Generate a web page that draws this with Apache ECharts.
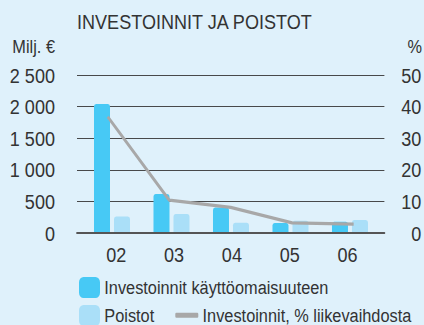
<!DOCTYPE html>
<html>
<head>
<meta charset="utf-8">
<script src="https://cdn.jsdelivr.net/npm/echarts@6/dist/echarts.min.js"></script>
<style>
  html, body { margin: 0; padding: 0; background: #dff1fb; overflow: hidden; }
  #wrap { width: 424px; height: 325px; overflow: hidden; }
  /* The chart is laid out wider and squeezed horizontally, which gives the
     narrow, condensed lettering of the printed original. */
  #chart { height: 325px; transform-origin: 0 0; }
</style>
</head>
<body>
<div id="wrap"><div id="chart"></div></div>
<script>
// Years on the category axis
const years = ['02', '03', '04', '05', '06'];
// Capital expenditure, M€
const investments = [2040, 616, 405, 158, 179];
// Depreciation, M€
const depreciation = [263, 300, 163, 194, 205];
// Capital expenditure as % of net sales
const investmentPct = [36.8, 10.4, 8.1, 3.2, 2.8];
// Axis tick labels
const leftTickLabels = ['0', '500', '1 000', '1 500', '2 000', '2 500'];
const rightTickLabels = ['0', '10', '20', '30', '40', '50'];

// Horizontal condensing factor and helper for horizontal lengths
const S = 0.86;
const X = v => v / S;

const FONT = "'Liberation Sans', Arial, sans-serif";
const TEXT = '#333333';
const DARK_BLUE = '#47c9f5';
const LIGHT_BLUE = '#aadff8';
const GREY_LINE = '#a8a8a8';

const el = document.getElementById('chart');
el.style.width = X(424) + 'px';
el.style.transform = 'scaleX(' + S + ')';

const chart = echarts.init(el, null, { renderer: 'svg' });

const plotTop = 75, plotBottom = 92;

chart.setOption({
  backgroundColor: '#dff1fb',
  animation: false,
  textStyle: { fontFamily: FONT },
  graphic: [
    { type: 'text', x: X(77), y: 21.5, style: { text: 'INVESTOINNIT JA POISTOT', font: '21px ' + FONT, fill: TEXT, textVerticalAlign: 'middle' } },
    { type: 'text', x: X(55), y: 46.5, style: { text: 'Milj. €', font: '19px ' + FONT, fill: TEXT, textAlign: 'right', textVerticalAlign: 'middle' } },
    { type: 'text', x: X(422), y: 46.5, style: { text: '%', font: '19px ' + FONT, fill: TEXT, textAlign: 'right', textVerticalAlign: 'middle' } }
  ],
  grid: [
    { left: X(77), right: X(39), top: plotTop, bottom: plotBottom },       // rules + percentage line
    { left: X(82.25), right: X(44.25), top: plotTop, bottom: plotBottom }, // bars
    { left: X(87.4), right: X(47.6), top: plotTop, bottom: plotBottom }    // year labels
  ],
  xAxis: [
    {
      gridIndex: 0, type: 'category', data: years, z: 5,
      axisLine: { lineStyle: { color: '#555555', width: 2 } },
      axisTick: { show: false }, axisLabel: { show: false }
    },
    { gridIndex: 1, type: 'category', data: years, show: false },
    {
      gridIndex: 2, type: 'category', data: years,
      axisLine: { show: false }, axisTick: { show: false },
      axisLabel: { fontSize: 21, color: TEXT, fontFamily: FONT, margin: 11 }
    }
  ],
  yAxis: [
    {
      gridIndex: 0, type: 'value', position: 'left', min: 0, max: 2500, interval: 500,
      axisLine: { show: false }, axisTick: { show: false },
      axisLabel: {
        fontSize: 21, color: TEXT, fontFamily: FONT, margin: X(22),
        formatter: v => leftTickLabels[Math.round(v / 500)]
      },
      splitLine: { lineStyle: { color: '#3c3c3c', width: 1 } }
    },
    {
      gridIndex: 0, type: 'value', position: 'right', min: 0, max: 50, interval: 10,
      axisLine: { show: false }, axisTick: { show: false },
      axisLabel: {
        fontSize: 21, color: TEXT, fontFamily: FONT, margin: X(37), align: 'right',
        formatter: v => rightTickLabels[Math.round(v / 10)]
      },
      splitLine: { show: false }
    },
    { gridIndex: 1, type: 'value', min: 0, max: 2500, interval: 500, show: false },
    { gridIndex: 2, type: 'value', min: 0, max: 2500, interval: 500, show: false }
  ],
  legend: [
    {
      left: X(79), top: 277, padding: 0, itemWidth: X(21), itemHeight: 21, icon: 'roundRect',
      selectedMode: false, data: ['Investoinnit käyttöomaisuuteen'],
      textStyle: { fontSize: 19, color: TEXT, fontFamily: FONT }
    },
    {
      left: X(79), top: 305, padding: 0, itemWidth: X(21), itemHeight: 21, icon: 'roundRect',
      selectedMode: false, data: ['Poistot'],
      textStyle: { fontSize: 19, color: TEXT, fontFamily: FONT }
    },
    {
      left: X(175.3), top: 305.8, padding: 0, itemWidth: X(23), itemHeight: 5, icon: 'roundRect',
      selectedMode: false, data: ['Investoinnit, % liikevaihdosta'],
      textStyle: { fontSize: 19, color: TEXT, fontFamily: FONT }
    }
  ],
  series: [
    {
      name: 'Investoinnit käyttöomaisuuteen', type: 'bar', xAxisIndex: 1, yAxisIndex: 2,
      data: investments, barWidth: X(16), barGap: '25%', z: 2,
      itemStyle: { color: DARK_BLUE, borderRadius: [2.5, 2.5, 0, 0] }
    },
    {
      name: 'Poistot', type: 'bar', xAxisIndex: 1, yAxisIndex: 2,
      data: depreciation, barWidth: X(16), barGap: '25%', z: 2,
      itemStyle: { color: LIGHT_BLUE, borderRadius: [2.5, 2.5, 0, 0] }
    },
    {
      name: 'Investoinnit, % liikevaihdosta', type: 'line', xAxisIndex: 0, yAxisIndex: 1,
      data: investmentPct, symbol: 'none', z: 6,
      itemStyle: { color: GREY_LINE },
      lineStyle: { color: GREY_LINE, width: 3.2 }
    }
  ]
});
</script>
</body>
</html>
